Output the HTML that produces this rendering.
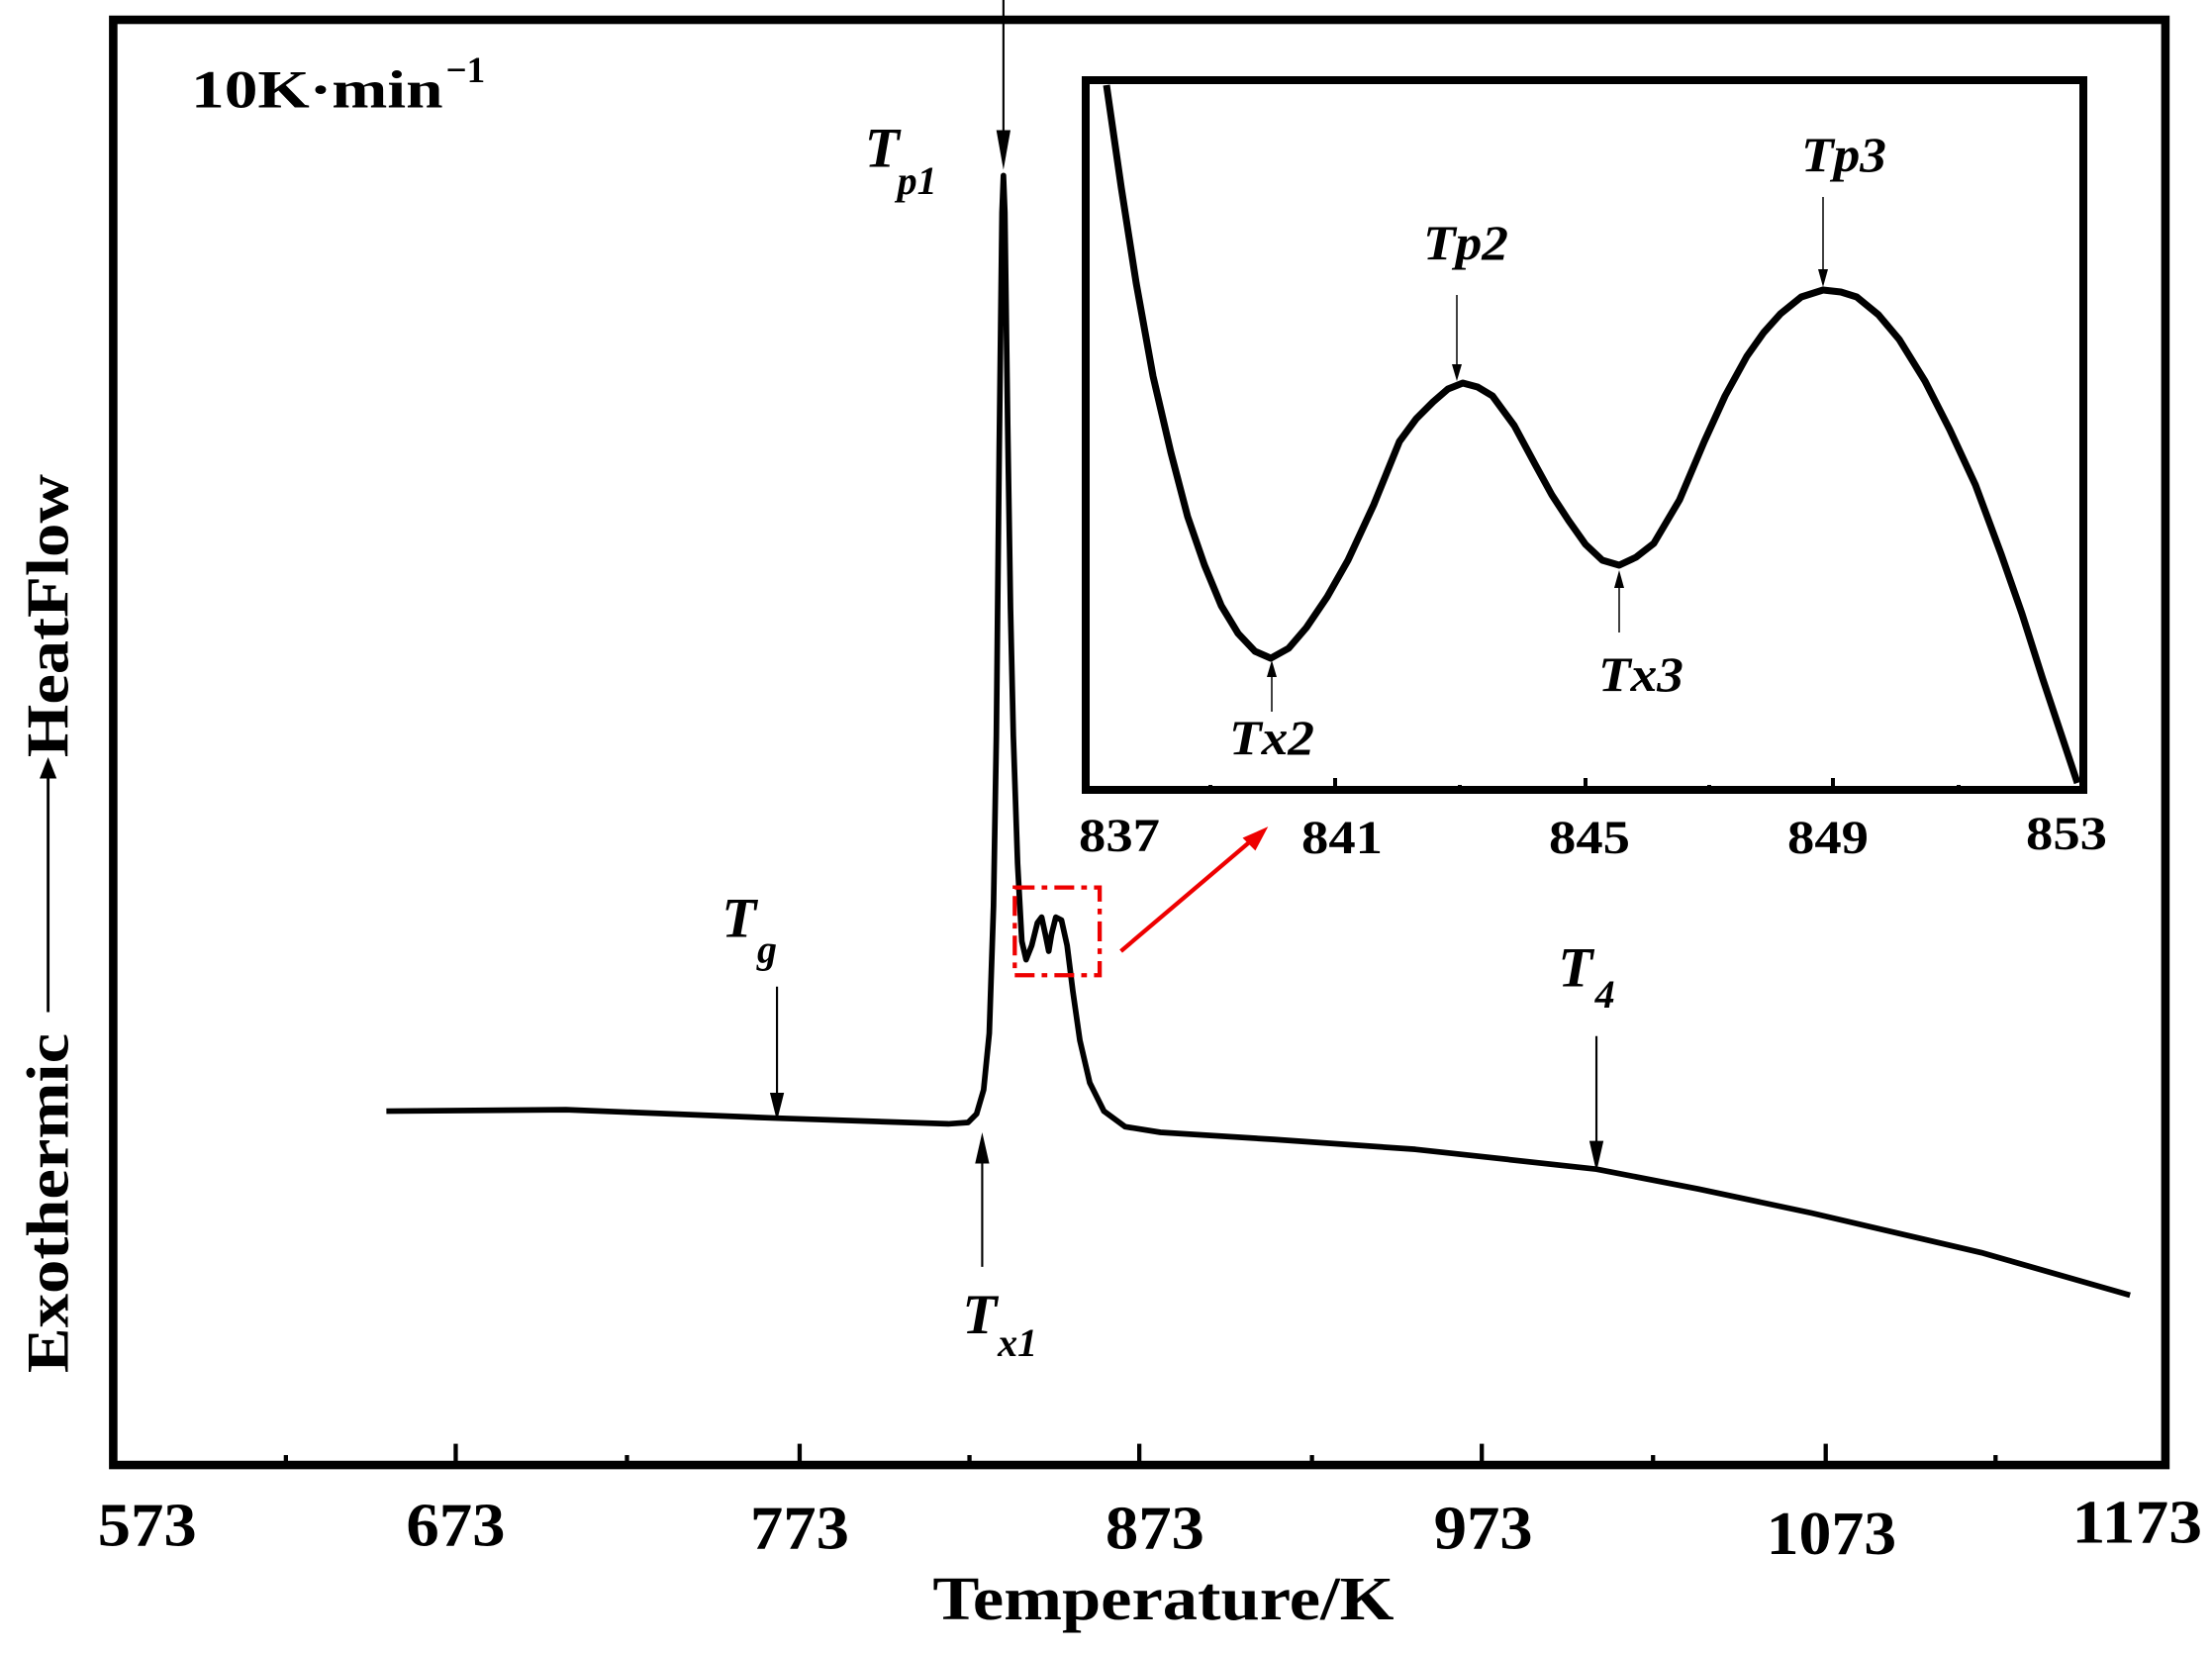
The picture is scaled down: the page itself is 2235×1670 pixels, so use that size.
<!DOCTYPE html>
<html><head><meta charset="utf-8"><style>
html,body{margin:0;padding:0;background:#fff;}
svg{display:block;}
text{font-family:"Liberation Serif",serif;font-weight:bold;fill:#000;}
</style></head><body>
<svg width="2235" height="1670" viewBox="0 0 2235 1670" xmlns="http://www.w3.org/2000/svg">
<g transform="scale(1.43)">
<rect x="80" y="14" width="1450" height="1021" fill="none" stroke="#000" stroke-width="6"/>
<g stroke="#000" stroke-width="3">
<line x1="322" y1="1035" x2="322" y2="1020"/><line x1="565" y1="1035" x2="565" y2="1020"/>
<line x1="805" y1="1035" x2="805" y2="1020"/><line x1="1047" y1="1035" x2="1047" y2="1020"/>
<line x1="1290" y1="1035" x2="1290" y2="1020"/>
<line x1="202" y1="1035" x2="202" y2="1028"/><line x1="443" y1="1035" x2="443" y2="1028"/>
<line x1="685" y1="1035" x2="685" y2="1028"/><line x1="927" y1="1035" x2="927" y2="1028"/>
<line x1="1168" y1="1035" x2="1168" y2="1028"/><line x1="1410" y1="1035" x2="1410" y2="1028"/>
</g>
<g font-size="44" text-anchor="middle">
<text x="104" y="1092" textLength="70" lengthAdjust="spacingAndGlyphs">573</text>
<text x="322" y="1092" textLength="70" lengthAdjust="spacingAndGlyphs">673</text>
<text x="565" y="1094" textLength="70" lengthAdjust="spacingAndGlyphs">773</text>
<text x="816" y="1094" textLength="70" lengthAdjust="spacingAndGlyphs">873</text>
<text x="1048" y="1094" textLength="70" lengthAdjust="spacingAndGlyphs">973</text>
<text x="1294" y="1098" textLength="92" lengthAdjust="spacingAndGlyphs">1073</text>
<text x="1510" y="1090" textLength="92" lengthAdjust="spacingAndGlyphs">1173</text>
<text x="822" y="1144" textLength="326" lengthAdjust="spacingAndGlyphs">Temperature/K</text>
</g>
<g transform="translate(48,650) rotate(-90)">
<text x="-200" y="0" font-size="42" text-anchor="middle" textLength="240" lengthAdjust="spacingAndGlyphs">Exothermic</text>
<line x1="-65" y1="-14" x2="105" y2="-14" stroke="#000" stroke-width="2"/>
<path d="M115,-14 L100,-20 L100,-8 Z" fill="#000"/>
<text x="215" y="0" font-size="42" text-anchor="middle" textLength="200" lengthAdjust="spacingAndGlyphs">HeatFlow</text>
</g>
<text x="135" y="76" font-size="38" textLength="178" lengthAdjust="spacingAndGlyphs">10K·min</text>
<text x="315" y="58" font-size="26" font-weight="normal">−1</text>
<path fill="none" stroke="#000" stroke-width="4" stroke-linejoin="round" d="M273,785 L400,784 L550,790 L670,794 L684,793 L690,787 L695,770 L699,730 L702,640 L704,520 L706,320 L708,150 L709,124 L710,150 L712,300 L714,430 L716,520 L719,610 L722,665 L725,678 L729,668 L733,652 L736,648 L739,662 L741,672 L743,660 L746,648 L750,650 L754,668 L758,700 L763,735 L770,765 L780,785 L795,796 L820,800 L900,805 L1000,812 L1128,826 L1200,840 L1280,857 L1400,885 L1505,915"/>
<g stroke="#000" stroke-width="1.5">
<line x1="709" y1="0" x2="709" y2="100"/><path d="M704,92 L714,92 L709,120 Z" fill="#000" stroke="none"/>
<line x1="549" y1="697" x2="549" y2="775"/><path d="M544,772 L554,772 L549,792 Z" fill="#000" stroke="none"/>
<line x1="694" y1="895" x2="694" y2="820"/><path d="M689,822 L699,822 L694,800 Z" fill="#000" stroke="none"/>
<line x1="1128" y1="732" x2="1128" y2="810"/><path d="M1123,806 L1133,806 L1128,828 Z" fill="#000" stroke="none"/>
</g>
<g font-style="italic">
<text x="611" y="118" font-size="40">T</text><text x="634" y="137" font-size="28">p1</text>
<text x="510" y="662" font-size="40">T</text><text x="535" y="680" font-size="28">g</text>
<text x="680" y="942" font-size="40">T</text><text x="705" y="958" font-size="28">x1</text>
<text x="1101" y="697" font-size="40">T</text><text x="1127" y="712" font-size="28">4</text>
</g>
<rect x="717" y="627" width="60" height="62" fill="none" stroke="#e00" stroke-width="3" stroke-dasharray="14,5,4,5"/>
<line x1="792" y1="672" x2="884" y2="594" stroke="#e00" stroke-width="3"/>
<path d="M896,584 L878,592 L887,601 Z" fill="#e00"/>
</g>
<rect x="1097" y="81" width="1008" height="717" fill="none" stroke="#000" stroke-width="8"/>
<g stroke="#000" stroke-width="4">
<line x1="1349" y1="798" x2="1349" y2="786"/><line x1="1602" y1="798" x2="1602" y2="786"/><line x1="1852" y1="798" x2="1852" y2="786"/>
<line x1="1223" y1="798" x2="1223" y2="793"/><line x1="1475" y1="798" x2="1475" y2="793"/><line x1="1727" y1="798" x2="1727" y2="793"/><line x1="1979" y1="798" x2="1979" y2="793"/>
</g>
<g font-size="48" text-anchor="middle">
<text x="1131" y="860" textLength="82" lengthAdjust="spacingAndGlyphs">837</text>
<text x="1356" y="862" textLength="82" lengthAdjust="spacingAndGlyphs">841</text>
<text x="1606" y="862" textLength="82" lengthAdjust="spacingAndGlyphs">845</text>
<text x="1847" y="862" textLength="82" lengthAdjust="spacingAndGlyphs">849</text>
<text x="2088" y="858" textLength="82" lengthAdjust="spacingAndGlyphs">853</text>
</g>
<polyline fill="none" stroke="#000" stroke-width="7" stroke-linejoin="round" points="1118,86 1133,190 1148,286 1165,380 1183,457 1200,522 1217,571 1234,612 1251,640 1268,658 1284,665 1302,655 1320,634 1341,603 1362,566 1388,510 1414,446 1431,423 1448,406 1463,393 1478,387 1493,391 1508,400 1530,430 1551,469 1568,500 1585,526 1602,550 1619,566 1636,571 1653,563 1671,549 1697,505 1722,446 1743,400 1765,360 1782,336 1799,317 1820,300 1842,293 1860,295 1876,300 1898,318 1919,343 1945,385 1970,434 1996,490 2022,560 2043,620 2064,686 2082,740 2099,791"/>
<g stroke="#000" stroke-width="1.5">
<line x1="1472" y1="298" x2="1472" y2="370"/><path d="M1467,368 L1477,368 L1472,385 Z" fill="#000" stroke="none"/>
<line x1="1842" y1="199" x2="1842" y2="275"/><path d="M1837,272 L1847,272 L1842,290 Z" fill="#000" stroke="none"/>
<line x1="1285" y1="719" x2="1285" y2="682"/><path d="M1280,684 L1290,684 L1285,667 Z" fill="#000" stroke="none"/>
<line x1="1636" y1="639" x2="1636" y2="592"/><path d="M1631,594 L1641,594 L1636,576 Z" fill="#000" stroke="none"/>
</g>
<g font-style="italic" font-weight="normal">
<text x="1438" y="262" font-size="50" textLength="86" lengthAdjust="spacingAndGlyphs">Tp2</text>
<text x="1820" y="173" font-size="50" textLength="86" lengthAdjust="spacingAndGlyphs">Tp3</text>
<text x="1242" y="762" font-size="50" textLength="86" lengthAdjust="spacingAndGlyphs">Tx2</text>
<text x="1615" y="698" font-size="50" textLength="86" lengthAdjust="spacingAndGlyphs">Tx3</text>
</g>
</svg>
</body></html>
